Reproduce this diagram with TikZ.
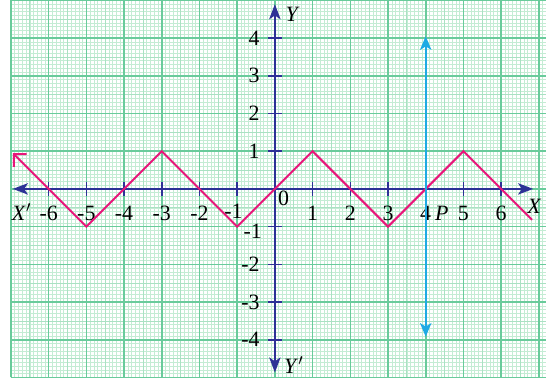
\documentclass[tikz,border=0pt]{standalone}
\usepackage{fontspec}
\setmainfont{Liberation Serif}
\usetikzlibrary{arrows.meta}
\definecolor{axisblue}{RGB}{45,50,150}
\definecolor{wavepink}{RGB}{232,22,122}
\definecolor{linecyan}{RGB}{30,170,228}
\definecolor{gridmajor}{RGB}{105,203,155}
\definecolor{gridhalf}{RGB}{170,225,195}
\definecolor{gridminor}{RGB}{196,236,212}
\tikzset{
  axis/.style={
    draw = axisblue,
    line width = 1.5pt,
    {Stealth[length=4mm,width=3mm,inset=1mm]}-{Stealth[length=4mm,width=3mm,inset=1mm]}
  },
  tick/.style={
    draw = axisblue,
    line width = 1.2pt
  },
  wave/.style={
    draw = wavepink,
    line width = 1.5pt,
    line join = miter
  },
  pline/.style={
    draw = linecyan,
    line width = 1.5pt,
    {Stealth[length=3.6mm,width=3mm,inset=0.9mm]}-{Stealth[length=3.6mm,width=3mm,inset=0.9mm]}
  },
  lbl/.style={
    inner sep = 0pt,
    font = \fontsize{16.5}{18}\selectfont
  }
}

\begin{document}
\begin{tikzpicture}
  \useasboundingbox (-7.29,-5.26) rectangle (7.19,5.01);
  % graph paper
  \draw[gridminor, line width=0.4pt] (-7,-5) grid[step=0.1] (7.19,5);
  \draw[gridhalf, line width=0.55pt] (-7,-5) grid[step=0.5] (7.19,5);
  \draw[gridmajor, line width=1.2pt] (-7,-5) grid[step=1] (7.19,5);
  % axes
  \coordinate (xl) at (-6.95,0);
  \coordinate (xr) at (6.85,0);
  \coordinate (yt) at (0,4.9);
  \coordinate (yb) at (0,-4.87);
  \draw[axis] (xl) -- (xr);
  \draw[axis] (yb) -- (yt);
  \foreach \x in {-6,...,-2,1,2,...,6}{
    \draw[tick] (\x,-0.19) -- (\x,0.19);
    \node[lbl] (x\x) at (\x,-0.64) {\x};
  }
  \draw[tick] (-1,-0.19) -- (-1,0.19);
  \node[lbl] (x-1) at (-1.1,-0.6) {-1};
  \foreach \y in {-4,...,-2,1,2,3,4}{
    \draw[tick] (-0.19,\y) -- (0.19,\y);
    \node[lbl, anchor=east] (y\y) at (-0.4,\y) {\y};
  }
  \draw[tick] (-0.19,-1) -- (0.19,-1);
  \node[lbl, anchor=east] (y-1) at (-0.34,-1.12) {-1};
  \node[lbl] (o) at (0.23,-0.25) {0};
  \node[lbl] (xlab) at (-6.72,-0.62) {\textit{X}$'$};
  \node[lbl] (xrlab) at (6.88,-0.45) {\textit{X}};
  \node[lbl] (ytlab) at (0.47,4.64) {\textit{Y}};
  \node[lbl] (yblab) at (0.5,-4.67) {\textit{Y}$'$};
  \node[lbl] (p) at (4.43,-0.64) {\textit{P}};
  % zigzag
  \draw[wave, {Straight Barb[length=2.4mm,width=4.8mm,angle'=90]}-]
    (-6.95,0.95) -- (-5,-1) -- (-3,1) -- (-1,-1) -- (1,1) -- (3,-1) -- (5,1) -- (6.82,-0.82);
  % line through P
  \coordinate (pt) at (4,4.05);
  \coordinate (pb) at (4,-3.92);
  \draw[pline] (pb) -- (pt);
\end{tikzpicture}
\end{document}
